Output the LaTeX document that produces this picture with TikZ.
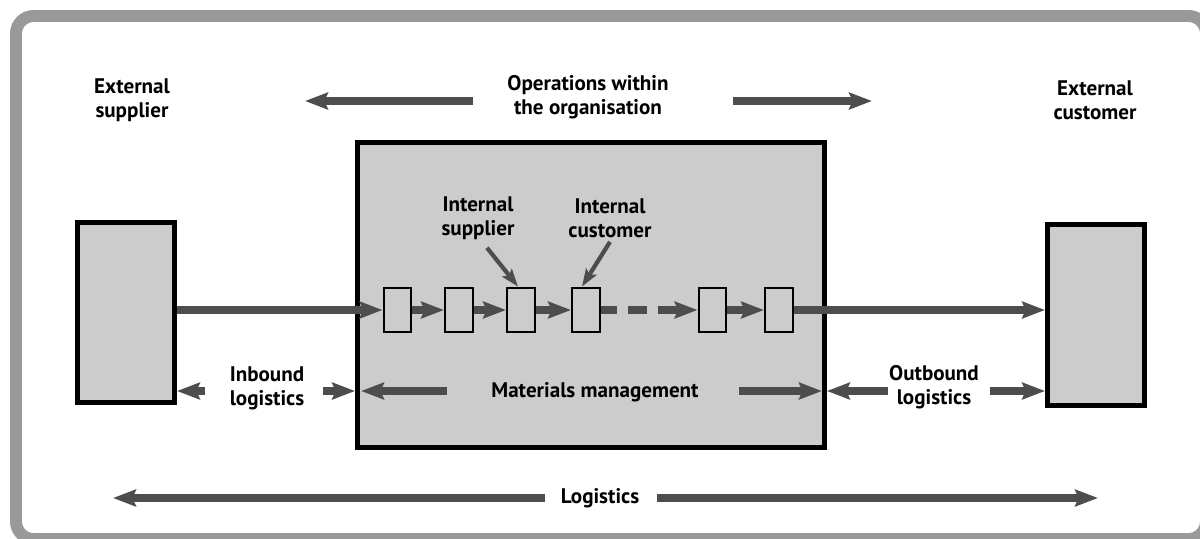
\documentclass[tikz,border=0pt]{standalone}
\usepackage{fontspec}
\setmainfont{PT Sans}
\usepackage{xcolor}
\usepackage{tikz}
\usetikzlibrary{arrows.meta}
\usetikzlibrary{positioning}

\definecolor{framegray}{HTML}{999999}
\definecolor{boxgray}{HTML}{CCCCCC}
\definecolor{arrowgray}{HTML}{4D4D4D}

\begin{document}
\begin{tikzpicture}[x=0.02cm,y=-0.02cm,font=\fontsize{12}{13.6}\selectfont\bfseries]
	\tikzstyle{bigbox}=[draw=black, fill=boxgray, line width=2.8pt, inner sep=0pt]
	\tikzstyle{stage}=[draw=black, fill=boxgray, line width=1.4pt, minimum width=0.55cm, minimum height=0.89cm, inner sep=0pt]
	\tikzstyle{lbl}=[align=center, inner sep=0pt, text=black]
	\tikzstyle{flowarrow}=[draw=arrowgray, line width=4pt, -{Stealth[length=13pt,width=9.5pt,inset=2pt]}]
	\tikzstyle{pointarrow}=[draw=arrowgray, line width=2.4pt, -{Stealth[length=10pt,width=7pt,inset=2pt]}]

	\useasboundingbox (0,0) rectangle (1200,538);
	\clip (0,0) rectangle (1200,538);
	\draw[framegray, line width=6.8pt, rounded corners=0.35cm] (16,16) rectangle (1206,539);

	% boxes
	\node[bigbox, minimum width=1.94cm, minimum height=3.6cm]  (supplier) at (126,312.5) {};
	\node[bigbox, minimum width=1.94cm, minimum height=3.62cm] (customer) at (1096,315) {};
	\node[bigbox, minimum width=9.34cm, minimum height=6.1cm]  (org) at (591,295) {};

	\node[stage] (s1) at (397.5,310) {};
	\node[stage] (s2) at (459,310) {};
	\node[stage] (s3) at (521,310) {};
	\node[stage] (s4) at (586,310) {};
	\node[stage] (s5) at (712.5,310) {};
	\node[stage] (s6) at (779,310) {};

	% labels
	\node[lbl] (extsup)   at (132,100) {External\\supplier};
	\node[lbl] (extcus)   at (1095,100) {External\\customer};
	\node[lbl] (ops)      at (588,97) {Operations within\\the organisation};
	\node[lbl] (intsup)   at (478,218) {Internal\\supplier};
	\node[lbl] (intcus)   at (610,218) {Internal\\customer};
	\node[lbl] (inbound)  at (267,388) {Inbound\\logistics};
	\node[lbl] (matman)   at (595,392) {Materials management};
	\node[lbl] (outbound) at (934,387) {Outbound\\logistics};
	\node[lbl] (logist)   at (600,498) {Logistics};

	\coordinate (opsL1) at (473,101);
	\coordinate (opsL2) at (305,101);
	\coordinate (opsR1) at (733,101);
	\coordinate (opsR2) at (872,101);
	\coordinate (inL) at (205,391);
	\coordinate (inR) at (323,391);
	\coordinate (mmL) at (447,391);
	\coordinate (mmR) at (739,391);
	\coordinate (outL) at (888,391);
	\coordinate (outR) at (990,391);
	\coordinate (logL1) at (545,498);
	\coordinate (logL2) at (113,498);
	\coordinate (logR1) at (657,498);
	\coordinate (logR2) at (1098,498);

	% material flow
	\draw[flowarrow] (s1.west -| supplier.east) -- (s1.west);
	\draw[flowarrow] (s1) -- (s2);
	\draw[flowarrow] (s2) -- (s3);
	\draw[flowarrow] (s3) -- (s4);
	\draw[flowarrow, dash pattern=on 0.32cm off 0.22cm on 0.38cm off 0.22cm on 2cm] (s4) -- (s5);
	\draw[flowarrow] (s5) -- (s6);
	\draw[flowarrow] (s6.east) -- (s6.east -| customer.west);

	\draw[pointarrow] ([xshift=0.18cm,yshift=-0.16cm]intsup.south) -- ([xshift=-0.06cm]s3.north);
	\draw[pointarrow] ([yshift=-0.08cm]intcus.south) -- ([xshift=-0.08cm]s4.north);

	% spans
	\draw[flowarrow] (opsL1) -- (opsL2);
	\draw[flowarrow] (opsR1) -- (opsR2);
	\draw[flowarrow] (inL) -- (inL -| supplier.east);
	\draw[flowarrow] (inR) -- (inR -| org.west);
	\draw[flowarrow, shorten >=0.12cm] (mmL) -- (mmL -| org.west);
	\draw[flowarrow, shorten >=0.1cm] (mmR) -- (mmR -| org.east);
	\draw[flowarrow] (outL) -- (outL -| org.east);
	\draw[flowarrow] (outR) -- (outR -| customer.west);
	\draw[flowarrow] (logL1) -- (logL2);
	\draw[flowarrow] (logR1) -- (logR2);
\end{tikzpicture}
\end{document}
